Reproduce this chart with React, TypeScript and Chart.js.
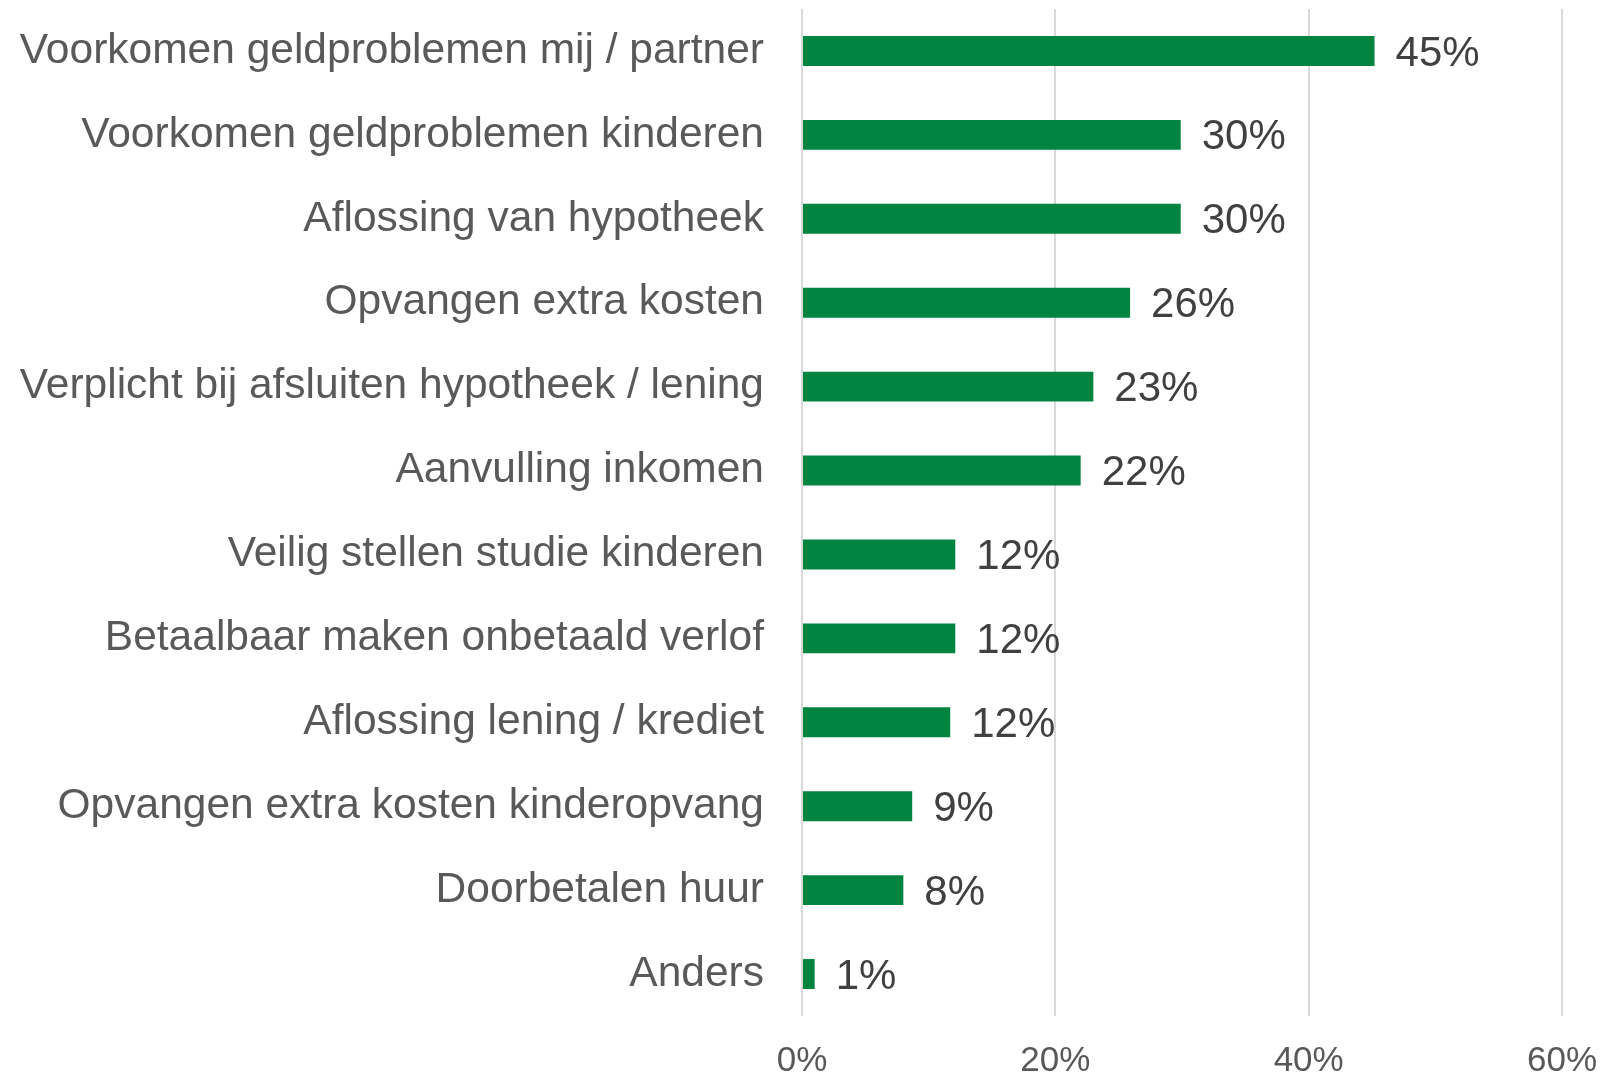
import React, { useEffect, useRef } from "react";
import { Chart, registerables } from "chart.js";

Chart.register(...registerables);

const categories = [
  "Voorkomen geldproblemen mij / partner",
  "Voorkomen geldproblemen kinderen",
  "Aflossing van hypotheek",
  "Opvangen extra kosten",
  "Verplicht bij afsluiten hypotheek / lening",
  "Aanvulling inkomen",
  "Veilig stellen studie kinderen",
  "Betaalbaar maken onbetaald verlof",
  "Aflossing lening / krediet",
  "Opvangen extra kosten kinderopvang",
  "Doorbetalen huur",
  "Anders",
];

const values = [45.2, 29.9, 29.9, 25.9, 23.0, 22.0, 12.1, 12.1, 11.7, 8.7, 8.0, 1.0];

const xTickMin = 0;
const xTickMax = 60;
const xTickStep = 20;

const FONT = "'Liberation Sans', Arial, sans-serif";

const valueLabelPlugin = {
  id: "valueLabels",
  afterDatasetsDraw(chart: any) {
    const ctx = chart.ctx;
    const meta = chart.getDatasetMeta(0);
    const data = chart.data.datasets[0].data as number[];
    ctx.save();
    ctx.font = `42px ${FONT}`;
    ctx.fillStyle = "#404040";
    ctx.textAlign = "left";
    ctx.textBaseline = "middle";
    meta.data.forEach((bar: any, i: number) => {
      ctx.fillText(Math.round(data[i]) + "%", bar.x + 21, bar.y + 3);
    });
    ctx.restore();
  },
};

export default function App() {
  const ref = useRef<HTMLCanvasElement | null>(null);

  useEffect(() => {
    if (!ref.current) return;
    const chart = new Chart(ref.current, {
      type: "bar",
      data: {
        labels: categories,
        datasets: [
          {
            data: values,
            backgroundColor: "#00843f",
            borderWidth: 0,
            categoryPercentage: 0.357,
            barPercentage: 1,
          },
        ],
      },
      plugins: [valueLabelPlugin],
      options: {
        indexAxis: "y",
        responsive: false,
        animation: false,
        layout: { padding: { top: 9, right: 38, left: 0, bottom: 0 } },
        plugins: {
          legend: { display: false },
          tooltip: { enabled: false },
        },
        scales: {
          x: {
            min: xTickMin,
            max: xTickMax,
            border: { display: false },
            grid: {
              color: "#d9d9d9",
              lineWidth: 2,
              drawTicks: false,
            },
            ticks: {
              stepSize: xTickStep,
              padding: 24,
              maxRotation: 0,
              color: "#595959",
              font: { family: FONT, size: 35 },
              callback: (v: any) => v + "%",
            },
            afterFit: (scale: any) => {
              scale.height = 56;
              scale.paddingLeft = 0;
              scale.paddingRight = 0;
            },
          },
          y: {
            border: { display: false },
            grid: { display: false, drawTicks: false },
            ticks: {
              padding: 38,
              color: "#595959",
              font: { family: FONT, size: 42.5 },
            },
            afterFit: (scale: any) => {
              scale.width = 802;
              scale.paddingTop = 0;
              scale.paddingBottom = 0;
            },
          },
        },
      },
    });
    return () => chart.destroy();
  }, []);

  return (
    <div style={{ position: "absolute", left: 0, top: 0, width: 1600, height: 1072, background: "#fff" }}>
      <canvas ref={ref} width={1600} height={1072} />
    </div>
  );
}
